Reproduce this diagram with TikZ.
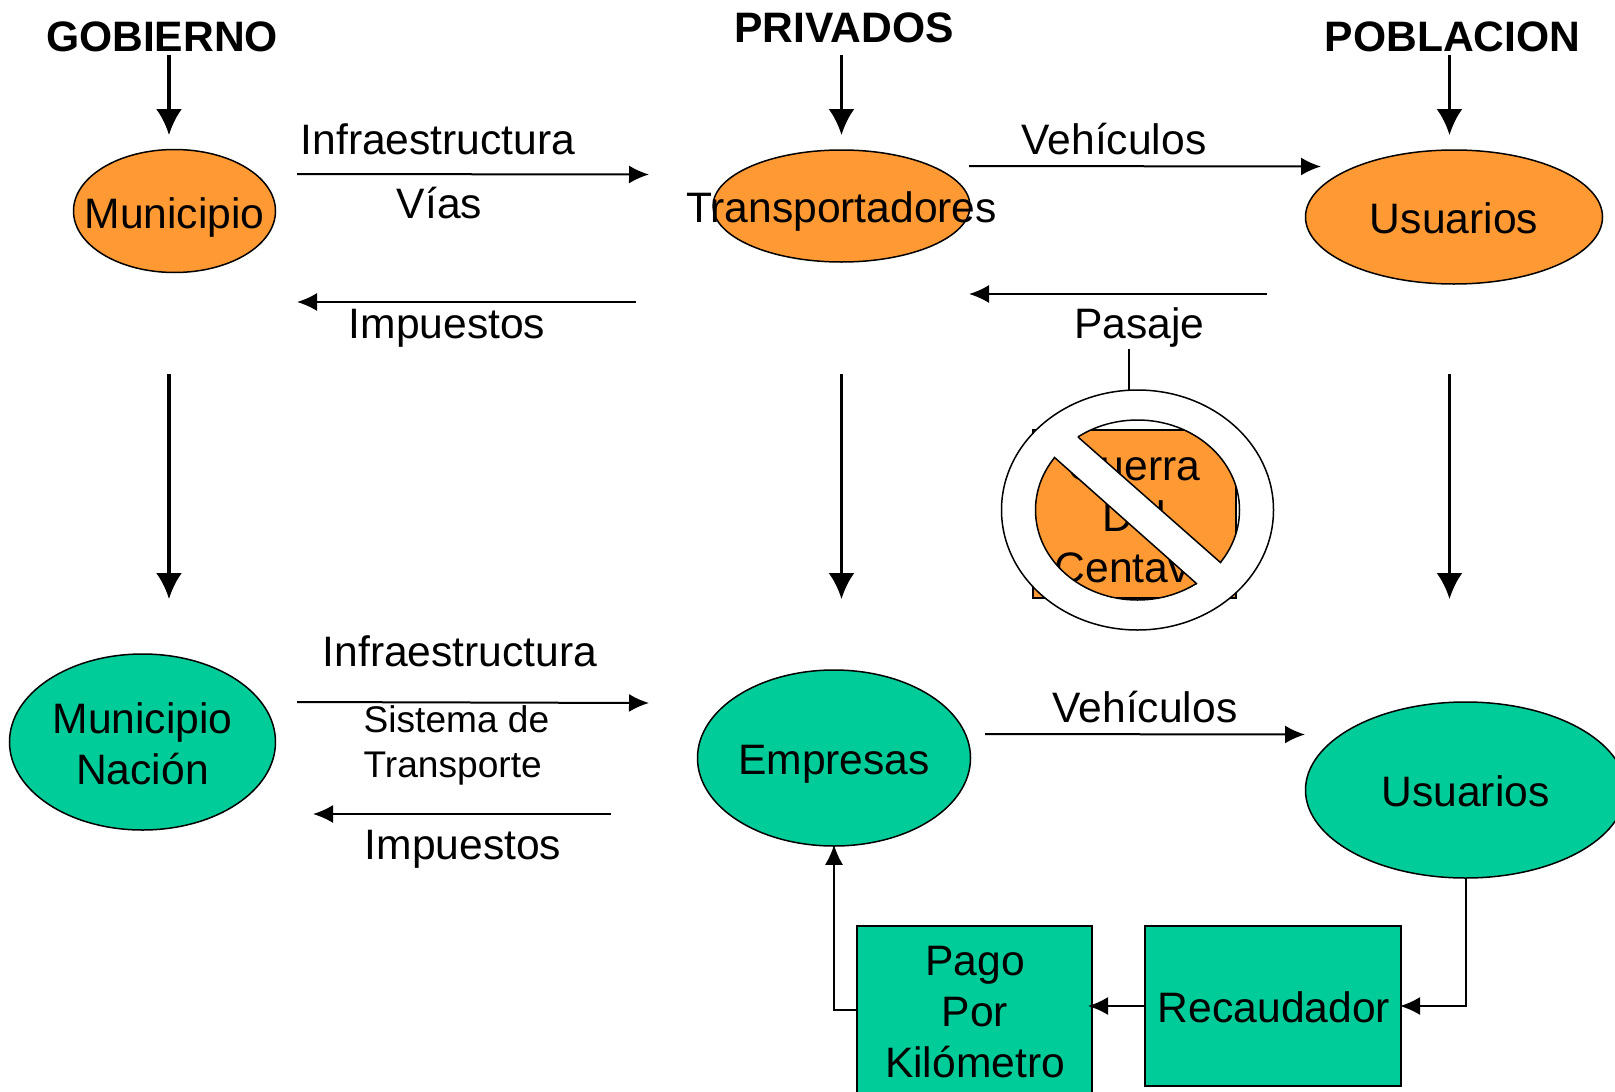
\documentclass[tikz,border=0pt]{standalone}
\usepackage{xcolor}
\usepackage{fontspec}
\setmainfont{Liberation Sans}
\usepackage{tikz}
\usetikzlibrary{calc}
\usetikzlibrary{arrows.meta}
\usetikzlibrary{shapes.geometric}
\definecolor{naranja}{HTML}{FF9933}
\definecolor{verde}{HTML}{00CC99}
\tikzset{>={Latex[length=20pt,width=18pt]}}
\tikzstyle{texto} = [draw=none, inner sep = 0, align=center, font=\fontsize{42.6}{51}\selectfont]
\tikzstyle{chico} = [draw=none, inner sep = 0, align=left, font=\fontsize{37.1}{45}\selectfont]
\tikzstyle{titulo} = [draw=none, inner sep = 0, font=\fontsize{42.6}{51}\selectfont\bfseries]
\tikzstyle{elipse} = [draw=black, line width=1.5pt, ellipse, inner sep = 0]
\tikzstyle{caja} = [draw=black, line width=2pt, fill=verde, inner sep = 0]
\tikzstyle{flecha} = [->, line width=2pt]
\tikzstyle{gruesa} = [-{Latex[length=26pt,width=26pt]}, line width=3.5pt]

\begin{document}
\begin{tikzpicture}[x=1pt, y=-1pt]
\useasboundingbox (0, 0) rectangle (1615, 1092);

% titulos
\node [titulo] (gobierno) at (162, 36.5) {GOBIERNO};
\node [titulo] (privados) at (844, 27.5) {PRIVADOS};
\node [titulo] (poblacion) at (1452.5, 36.5) {POBLACION};

% fila de arriba
\node [elipse, fill=naranja, minimum width=202, minimum height=123] (municipio) at (174.5, 211) {};
\node [elipse, fill=naranja, minimum width=257, minimum height=112] (transportadores) at (841.5, 206) {};
\node [elipse, fill=naranja, minimum width=297, minimum height=134] (usuarios) at (1454, 217) {};
\node [texto] (municipioT) at (174.5, 217) {Municipio};
\node [texto] (transportadoresT) at (841.5, 211) {Transportadores};
\node [texto] (usuariosT) at (1454, 218) {Usuarios};

% fila de abajo
\node [elipse, fill=verde, minimum width=266, minimum height=176] (nacion) at (142.5, 742) {};
\node [elipse, fill=verde, minimum width=273, minimum height=176] (empresas) at (834, 758) {};
\node [elipse, fill=verde, minimum width=320, minimum height=176] (usuariosB) at (1465.5, 790) {};
\node [caja, minimum width=235, minimum height=168] (pago) at (974.5, 1010) {};
\node [caja, minimum width=256, minimum height=160] (recaudador) at (1273, 1006) {};
\node [texto] (nacionT) at (142.5, 744) {Municipio\\Nación};
\node [texto] (empresasT) at (834, 764) {Empresas};
\node [texto] (usuariosBT) at (1465.5, 791) {Usuarios};
\node [texto] (pagoT) at (975, 1012.5) {Pago\\Por\\Kilómetro};
\node [texto] (recaudadorT) at (1274, 1007) {Recaudador};

% etiquetas
\node [texto] (infraA) at (438, 139) {Infraestructura};
\node [texto] (vias) at (439.5, 203) {Vías};
\node [texto] (impuestosA) at (447, 328) {Impuestos};
\node [texto] (vehiculosA) at (1114, 139) {Vehículos};
\node [texto] (pasaje) at (1139.5, 327) {Pasaje};
\node [texto] (infraB) at (460, 651) {Infraestructura};
\node [chico, anchor=west] (sistema) at (363.5, 745) {Sistema de\\Transporte};
\node [texto] (impuestosB) at (463, 849) {Impuestos};
\node [texto] (vehiculosB) at (1145, 707) {Vehículos};

% flechas de los titulos
\coordinate (g1) at (169, 55);
\coordinate (g2) at (169, 135);
\coordinate (g3) at (169, 374);
\coordinate (g4) at (169, 599);
\coordinate (p1) at (841.5, 55);
\coordinate (p2) at (841.5, 135);
\coordinate (p3) at (841.5, 374);
\coordinate (p4) at (841.5, 599);
\coordinate (u1) at (1449.5, 55);
\coordinate (u2) at (1449.5, 135);
\coordinate (u3) at (1449.5, 374);
\coordinate (u4) at (1449.5, 599);
\draw [gruesa] (g1) to (g2);
\draw [gruesa] (p1) to (p2);
\draw [gruesa] (u1) to (u2);
\draw [gruesa] (g3) to (g4);
\draw [gruesa] (p3) to (p4);
\draw [gruesa] (u3) to (u4);

% flechas horizontales
\coordinate (a1) at (297, 174);
\coordinate (a2) at (649, 174.5);
\coordinate (b1) at (636, 302);
\coordinate (b2) at (297, 302);
\coordinate (c1) at (969, 166);
\coordinate (c2) at (1321, 166.5);
\coordinate (d1) at (1267, 294);
\coordinate (d2) at (969, 294);
\coordinate (e1) at (297, 702);
\coordinate (e2) at (649, 703);
\coordinate (f1) at (611, 814);
\coordinate (f2) at (313, 814);
\coordinate (h1) at (985, 734);
\coordinate (h2) at (1305, 734.5);
\draw [flecha] (a1) to (a2);
\draw [flecha] (b1) to (b2);
\draw [flecha] (c1) to (c2);
\draw [flecha] (d1) to (d2);
\draw [flecha] (e1) to (e2);
\draw [flecha] (f1) to (f2);
\draw [flecha] (h1) to (h2);

% recaudo
\draw [flecha, shorten >=-2pt] (usuariosB.south) |- (recaudador.east);
\draw [flecha, shorten >=-5pt] (recaudador.west) -- (recaudador.west -| pago.east);
\draw [flecha, shorten >=-2pt] (pago.west) -| (empresas.south);

% prohibido
\coordinate (anillo) at (1137.5, 510);
\coordinate (pasajeA) at (1129, 349);
\coordinate (pasajeB) at (1129, 395);
\draw [line width=1.5pt] (pasajeA) to (pasajeB);
\node [caja, fill=naranja, minimum width=203, minimum height=168] (guerra) at (1134.5, 514) {};
\node [texto] (guerraT) at (1134, 517) {Guerra\\Del\\Centavo};
\fill [white, even odd rule, draw=black, line width=1.5pt] (anillo) ellipse [x radius=136, y radius=120] (anillo) ellipse [x radius=102, y radius=90];
\coordinate (s1) at (1078, 437);
\coordinate (s2) at (1221, 563);
\coordinate (s3) at (1197, 584);
\coordinate (s4) at (1054, 457);
\fill [white] ($(s1)!-4pt!(s2)$) -- ($(s2)!-4pt!(s1)$) -- ($(s3)!-4pt!(s4)$) -- ($(s4)!-4pt!(s3)$) -- cycle;
\draw [line width=1.5pt] (s1) to (s2);
\draw [line width=1.5pt] (s3) to (s4);
\end{tikzpicture}
\end{document}
